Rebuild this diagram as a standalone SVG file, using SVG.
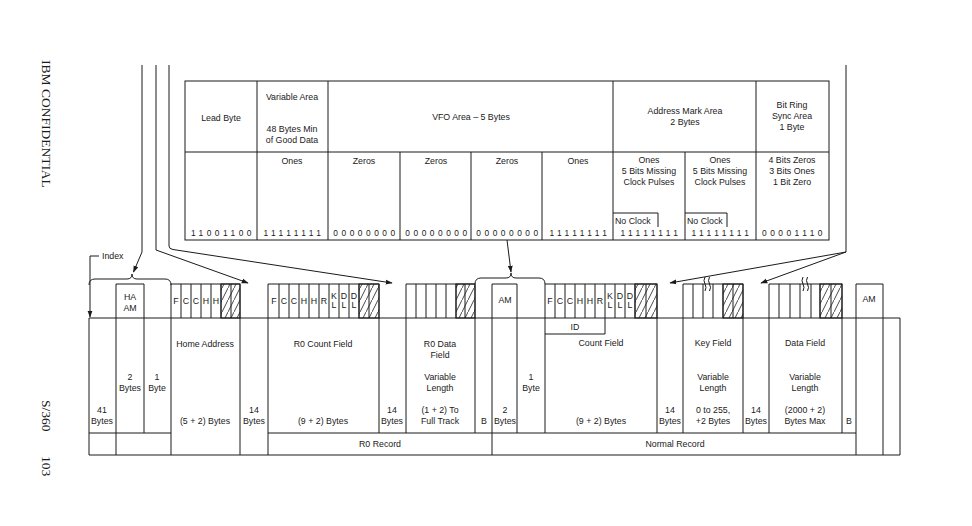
<svg xmlns="http://www.w3.org/2000/svg" width="972" height="526" viewBox="0 0 972 526">
<style>
.l{stroke:#1a1a1a;stroke-width:1;fill:none}
.t{font-family:"Liberation Sans",Arial,sans-serif;font-size:8.8px;fill:#1a1a1a;text-anchor:middle}
.s{font-family:"Liberation Sans",Arial,sans-serif;font-size:8.8px;fill:#1a1a1a}
.b{font-family:"Liberation Sans",Arial,sans-serif;font-size:8.4px;fill:#1a1a1a;text-anchor:middle;letter-spacing:3.5px}
.p{font-family:"Liberation Serif","Times New Roman",serif;font-size:13.5px;fill:#1a1a1a}
.h{fill:url(#hatch);stroke:#1a1a1a;stroke-width:1}
</style>
<defs>
<pattern id="hatch" patternUnits="userSpaceOnUse" width="6" height="12"><path d="M0 12 L6 0" stroke="#1a1a1a" stroke-width="0.8"/></pattern>
<marker id="ah" viewBox="0 0 10 10" refX="9" refY="5" markerWidth="7" markerHeight="7" orient="auto" markerUnits="userSpaceOnUse"><path d="M0 1.5 L10 5 L0 8.5 z" fill="#1a1a1a"/></marker>
</defs>
<rect width="972" height="526" fill="#fff"/>

<g id="page-margin">
<text class="p" transform="translate(42,60) rotate(90)">IBM CONFIDENTIAL</text>
<text class="p" transform="translate(42,400) rotate(90)">S/360</text>
<text class="p" transform="translate(42,456) rotate(90)">103</text>
</g>

<g id="top-table">
<rect class="l" x="185" y="81" width="644" height="159"/>
<path class="l" d="M185 152 H829 M257 81 V240 M328 81 V240 M613 81 V240 M756 81 V240 M400 152 V240 M471 152 V240 M542 152 V240 M685 152 V240"/>
<path class="l" d="M613 213 H658 V227 M685 213 H727 V227"/>
<text class="t" x="221" y="121">Lead Byte</text>
<text class="t" x="292" y="99.5">Variable Area</text>
<text class="t" x="292" y="132">48 Bytes Min</text>
<text class="t" x="292" y="143">of Good Data</text>
<text class="t" x="471" y="120">VFO Area – 5 Bytes</text>
<text class="t" x="685" y="114">Address Mark Area</text>
<text class="t" x="685" y="125">2 Bytes</text>
<text class="t" x="792" y="108">Bit Ring</text>
<text class="t" x="792" y="119">Sync Area</text>
<text class="t" x="792" y="130">1 Byte</text>
<text class="t" x="292" y="164">Ones</text>
<text class="t" x="364" y="164">Zeros</text>
<text class="t" x="436" y="164">Zeros</text>
<text class="t" x="507" y="164">Zeros</text>
<text class="t" x="578" y="164">Ones</text>
<text class="t" x="649" y="163">Ones</text>
<text class="t" x="649" y="174">5 Bits Missing</text>
<text class="t" x="649" y="185">Clock Pulses</text>
<text class="t" x="720" y="163">Ones</text>
<text class="t" x="720" y="174">5 Bits Missing</text>
<text class="t" x="720" y="185">Clock Pulses</text>
<text class="t" x="792" y="163">4 Bits Zeros</text>
<text class="t" x="792" y="174">3 Bits Ones</text>
<text class="t" x="792" y="185">1 Bit Zero</text>
<text class="s" x="615" y="224">No Clock</text>
<text class="s" x="687" y="224">No Clock</text>
<text class="b" x="223" y="236">11001100</text>
<text class="b" x="294" y="236">11111111</text>
<text class="b" x="366" y="236">00000000</text>
<text class="b" x="438" y="236">00000000</text>
<text class="b" x="509" y="236">00000000</text>
<text class="b" x="580" y="236">11111111</text>
<text class="b" x="651" y="236">11111111</text>
<text class="b" x="722" y="236">11111111</text>
<text class="b" x="794" y="236">00001110</text>
</g>

<g id="track-frame">
<path class="l" d="M89 318 H900 M89 455 H900 M89 433 H171 M268 433 H856 M89 318 V455 M900 318 V455"/>
</g>

<g id="index-gap">
<text class="t" x="102" y="413">41</text>
<text class="t" x="102" y="424">Bytes</text>
</g>

<g id="ha-am">
<path class="l" d="M116 455 V284 H144 V433"/>
<text class="t" x="130" y="300">HA</text>
<text class="t" x="130" y="311">AM</text>
<text class="t" x="130" y="380">2</text>
<text class="t" x="130" y="391">Bytes</text>
<text class="t" x="157" y="380">1</text>
<text class="t" x="157" y="391">Byte</text>
</g>

<g id="home-address">
<rect class="h" x="221" y="284" width="19" height="34"/>
<path class="l" d="M171 455 V284 H240 V455 M181 284 V318 M191 284 V318 M201 284 V318 M211 284 V318 M221 284 V318 M231 284 V318"/>
<text class="t" x="176" y="304">F</text>
<text class="t" x="186" y="304">C</text>
<text class="t" x="196" y="304">C</text>
<text class="t" x="206" y="304">H</text>
<text class="t" x="216" y="304">H</text>
<text class="t" x="205" y="347">Home Address</text>
<text class="t" x="205" y="424">(5 + 2) Bytes</text>
<text class="t" x="254" y="413">14</text>
<text class="t" x="254" y="424">Bytes</text>
</g>

<g id="r0-count">
<rect class="h" x="359" y="284" width="20" height="34"/>
<path class="l" d="M268 455 V284 H379 V433 M279 284 V318 M289 284 V318 M299 284 V318 M309 284 V318 M319 284 V318 M329 284 V318 M339 284 V318 M349 284 V318 M359 284 V318 M369 284 V318"/>
<text class="t" x="274" y="304">F</text>
<text class="t" x="284" y="304">C</text>
<text class="t" x="294" y="304">C</text>
<text class="t" x="304" y="304">H</text>
<text class="t" x="314" y="304">H</text>
<text class="t" x="324" y="304">R</text>
<text class="t" x="334" y="299">K</text><text class="t" x="334" y="308">L</text>
<text class="t" x="344" y="299">D</text><text class="t" x="344" y="308">L</text>
<text class="t" x="354" y="299">D</text><text class="t" x="354" y="308">L</text>
<text class="t" x="323" y="347">R0 Count Field</text>
<text class="t" x="323" y="424">(9 + 2) Bytes</text>
<text class="t" x="392" y="413">14</text>
<text class="t" x="392" y="424">Bytes</text>
</g>

<g id="r0-data">
<rect class="h" x="456" y="284" width="19" height="34"/>
<path class="l" d="M406 433 V284 H475 V433 M416 284 V318 M426 284 V318 M436 284 V318 M446 284 V318 M456 284 V318 M465 284 V318"/>
<text class="t" x="440" y="347">R0 Data</text>
<text class="t" x="440" y="358">Field</text>
<text class="t" x="440" y="380">Variable</text>
<text class="t" x="440" y="391">Length</text>
<text class="t" x="440" y="413">(1 + 2) To</text>
<text class="t" x="440" y="424">Full Track</text>
<text class="t" x="484" y="424">B</text>
<text class="t" x="380" y="447">R0 Record</text>
</g>

<g id="am">
<path class="l" d="M492 455 V284 H517 V433"/>
<text class="t" x="505" y="303">AM</text>
<text class="t" x="505" y="413">2</text>
<text class="t" x="505" y="424">Bytes</text>
<text class="t" x="531" y="380">1</text>
<text class="t" x="531" y="391">Byte</text>
</g>

<g id="count-field">
<rect class="h" x="635" y="284" width="22" height="34"/>
<path class="l" d="M545 433 V284 H657 V433 M555 284 V318 M565 284 V318 M575 284 V318 M585 284 V318 M595 284 V318 M605 284 V318 M615 284 V318 M625 284 V318 M635 284 V318 M646 284 V318 M545 334 H605 V318"/>
<text class="t" x="550" y="304">F</text>
<text class="t" x="560" y="304">C</text>
<text class="t" x="570" y="304">C</text>
<text class="t" x="580" y="304">H</text>
<text class="t" x="590" y="304">H</text>
<text class="t" x="600" y="304">R</text>
<text class="t" x="610" y="299">K</text><text class="t" x="610" y="308">L</text>
<text class="t" x="620" y="299">D</text><text class="t" x="620" y="308">L</text>
<text class="t" x="630" y="299">D</text><text class="t" x="630" y="308">L</text>
<text class="t" x="575" y="330">ID</text>
<text class="t" x="601" y="346">Count Field</text>
<text class="t" x="601" y="424">(9 + 2) Bytes</text>
<text class="t" x="670" y="413">14</text>
<text class="t" x="670" y="424">Bytes</text>
</g>

<g id="key-field">
<rect class="h" x="723" y="284" width="20" height="34"/>
<path class="l" d="M683 433 V284 H743 V433 M693 284 V318 M703 284 V318 M713 284 V318 M723 284 V318 M733 284 V318"/>
<path class="l" d="M705 277 q-2 3.5 0 7 q2 3.5 0 7 M709.5 277 q-2 3.5 0 7 q2 3.5 0 7"/>
<text class="t" x="713" y="346">Key Field</text>
<text class="t" x="713" y="380">Variable</text>
<text class="t" x="713" y="391">Length</text>
<text class="t" x="713" y="413">0 to 255,</text>
<text class="t" x="713" y="424">+2 Bytes</text>
<text class="t" x="756" y="413">14</text>
<text class="t" x="756" y="424">Bytes</text>
</g>

<g id="data-field">
<rect class="h" x="820" y="284" width="22" height="34"/>
<path class="l" d="M769 433 V284 H842 V433 M779 284 V318 M790 284 V318 M800 284 V318 M811 284 V318 M820 284 V318 M831 284 V318"/>
<path class="l" d="M803 277 q-2 3.5 0 7 q2 3.5 0 7 M807.5 277 q-2 3.5 0 7 q2 3.5 0 7"/>
<text class="t" x="805" y="346">Data Field</text>
<text class="t" x="805" y="380">Variable</text>
<text class="t" x="805" y="391">Length</text>
<text class="t" x="805" y="413">(2000 + 2)</text>
<text class="t" x="805" y="424">Bytes Max</text>
<text class="t" x="849" y="424">B</text>
<text class="t" x="675" y="447">Normal Record</text>
</g>

<g id="am-end">
<path class="l" d="M856 455 V284 H883 V455"/>
<text class="t" x="869" y="302">AM</text>
</g>

<g id="connectors">
<path class="l" d="M89 285 Q89 279 95 279 H127 Q132 279 132 274 Q132 279 137 279 H165 Q171 279 171 285"/>
<path class="l" d="M475 284 Q475 278 481 278 H506 Q511 278 511 273 Q511 278 516 278 H539 Q545 278 545 284"/>
<path class="l" d="M142 65 V252 L133.5 272" marker-end="url(#ah)"/>
<path class="l" d="M156 65 V250 L248 283" marker-end="url(#ah)"/>
<path class="l" d="M169 65 V246 Q169 249 173 249.5 L392 283" marker-end="url(#ah)"/>
<path class="l" d="M507 240 L511 272" marker-end="url(#ah)"/>
<path class="l" d="M846 65 V252 L670 283" marker-end="url(#ah)"/>
<path class="l" d="M846 252 L761 283" marker-end="url(#ah)"/>
<path class="l" d="M99 256 H90 V317" marker-end="url(#ah)"/>
<text class="s" x="102" y="258.5">Index</text>
</g>
</svg>
